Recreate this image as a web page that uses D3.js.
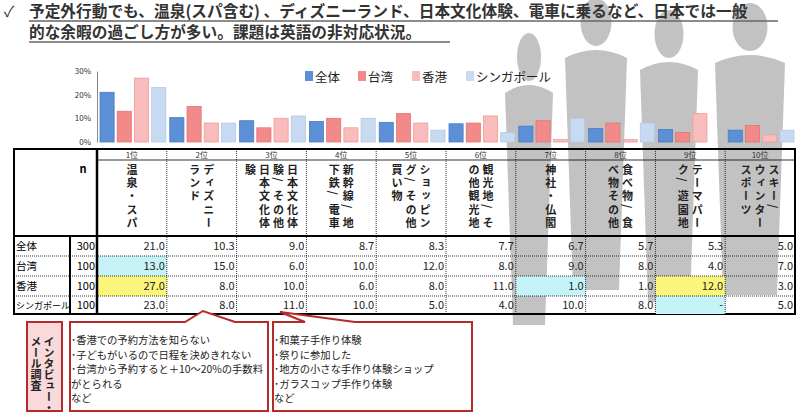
<!DOCTYPE html>
<html><head><meta charset="utf-8">
<script src="https://cdn.jsdelivr.net/npm/d3@7"></script>
<style>body{margin:0;background:#fff}text{font-family:"Noto Sans CJK JP","Noto Sans",sans-serif}</style>
</head><body><svg id="c" width="800" height="414"></svg>
<script>
const ranks=["1位","2位","3位","4位","5位","6位","7位","8位","9位","10位"];
const labelCols=[["温泉・スパ"],["ディズニー","ランド"],["日本文化体","験/その他","日本文化体","験"],["新幹線/地","下鉄/電車"],["ショッピン","グ/その他","買い物"],["観光地/そ","の他観光地"],["神社・仏閣"],["食べ物/食","べ物その他"],["テーマパー","ク/遊園地"],["スキー/","ウィンター","スポーツ"]];
const series=["全体","台湾","香港","シンガポール"];
const nVals=[300,100,100,100];
const total=[21.0,10.3,9.0,8.7,8.3,7.7,6.7,5.7,5.3,5.0];
const taiwan=[13.0,15.0,6.0,10.0,12.0,8.0,9.0,8.0,4.0,7.0];
const hongkong=[27.0,8.0,10.0,6.0,8.0,11.0,1.0,1.0,12.0,3.0];
const singapore=[23.0,8.0,11.0,10.0,5.0,4.0,10.0,8.0,null,5.0];
const yTicks=[0,10,20,30];
const notes1=["･香港での予約方法を知らない","･子どもがいるので日程を決めきれない","･台湾から予約すると＋10～20%の手数料","がとられる","など"];
const notes2=["･和菓子手作り体験","･祭りに参加した","･地方の小さな手作り体験ショップ","･ガラスコップ手作り体験","など"];
const highlights=[[1,0,"#c6f3f7"],[2,0,"#fbf57d"],[2,6,"#c6f3f7"],[2,8,"#fbf57d"],[3,8,"#c6f3f7"]];

const data=[total,taiwan,hongkong,singapore];
const fills=["#5b8fd6","#f38a8a","#f9bcbc","#c8daf1"];
const strokes=["#4a7cc4","#e07474","#f09a9a","#b3c9e6"];
const svg=d3.select("#c");

// silhouettes
const sil=svg.append("g").attr("fill","#9a9a9a").attr("opacity",0.6);
[[565,0,62],[640,12,58],[715,5,70],[505,35,48]].forEach(([x,y,w])=>{
  sil.append("ellipse").attr("cx",x+w/2).attr("cy",y+22).attr("rx",w*0.25).attr("ry",24);
  sil.append("path").attr("d",`M${x},${y+58} Q${x+w/2},${y+42} ${x+w},${y+58} L${x+w-8},${y+290} L${x+8},${y+290} Z`);
});

// title
svg.append("text").attr("x",4).attr("y",17).attr("font-size",15).attr("fill","#333").text("✓");
const t=svg.append("g").attr("font-size",15.7).attr("font-weight","bold").attr("fill","#333");
t.append("text").attr("x",29).attr("y",17).text("予定外行動でも、温泉(スパ含む) 、ディズニーランド、日本文化体験、電車に乗るなど、日本では一般");
t.append("text").attr("x",29).attr("y",38).text("的な余暇の過ごし方が多い。課題は英語の非対応状況。");
svg.append("line").attr("x1",29).attr("x2",778).attr("y1",21).attr("y2",21).attr("stroke","#666").attr("stroke-width",1.5);
svg.append("line").attr("x1",29).attr("x2",450).attr("y1",42).attr("y2",42).attr("stroke","#666").attr("stroke-width",1.5);

// scales
const x=d3.scaleBand().domain(d3.range(10)).range([97,795]);
const xi=d3.scaleBand().domain(d3.range(4)).range([3,x.bandwidth()-1]).paddingInner(0.18);
const y=d3.scaleLinear().domain([0,30]).range([142,71]);
const ax=svg.append("g").attr("transform","translate(97,0)").call(d3.axisLeft(y).tickValues(yTicks).tickSize(0).tickPadding(6).tickFormat(d=>d+"%"));
ax.select(".domain").attr("stroke","#888");
ax.selectAll("text").attr("font-size",8).attr("fill","#333").attr("font-family","Noto Sans");
data.forEach((arr,s)=>{
  svg.append("g").selectAll("rect").data(arr).join("rect")
   .attr("x",(d,i)=>x(i)+xi(s)).attr("width",xi.bandwidth())
   .attr("y",d=>y(d||0)).attr("height",d=>y(0)-y(d||0))
   .attr("fill",fills[s]).attr("stroke",strokes[s]).attr("stroke-width",0.8);
});
// legend
const lg=svg.append("g").attr("font-size",12.5).attr("fill","#222");
const lx=[305,358,412,466];
series.forEach((s,i)=>{lg.append("rect").attr("x",lx[i]).attr("y",71).attr("width",8).attr("height",10).attr("fill",fills[i]);
 lg.append("text").attr("x",lx[i]+10).attr("y",82).text(s);});

// table
const T=svg.append("g");
const tTop=149,rh=[11,76,20,20,20,18];
const ry=[tTop];rh.forEach(h=>ry.push(ry[ry.length-1]+h));
T.append("rect").attr("x",14).attr("y",tTop).attr("width",781).attr("height",ry[6]-tTop).attr("fill","none").attr("stroke","#000").attr("stroke-width",2);
highlights.forEach(([r,c,col])=>T.append("rect").attr("x",x(c)).attr("y",ry[r+2]).attr("width",x.bandwidth()).attr("height",rh[r+2]).attr("fill",col));
for(let r=1;r<6;r++)T.append("line").attr("x1",r<=2?97:14).attr("x2",795).attr("y1",ry[r]).attr("y2",ry[r]).attr("stroke","#000").attr("stroke-width",r==2?2:0.8).attr("stroke-dasharray",r>2?"1,1":null);
T.append("line").attr("x1",14).attr("x2",795).attr("y1",ry[2]).attr("y2",ry[2]).attr("stroke","#000").attr("stroke-width",2);
T.append("line").attr("x1",70).attr("x2",70).attr("y1",ry[2]).attr("y2",ry[6]).attr("stroke","#000").attr("stroke-width",2);
T.append("line").attr("x1",97).attr("x2",97).attr("y1",tTop).attr("y2",ry[6]).attr("stroke","#000").attr("stroke-width",2.5);
for(let i=1;i<10;i++)T.append("line").attr("x1",x(i)).attr("x2",x(i)).attr("y1",tTop).attr("y2",ry[6]).attr("stroke","#000").attr("stroke-width",0.8).attr("stroke-dasharray","1,1");
T.append("text").attr("x",83).attr("y",173).attr("text-anchor","middle").attr("font-size",11).attr("font-weight","bold").text("n");
ranks.forEach((r,i)=>T.append("text").attr("x",x(i)+x.bandwidth()/2).attr("y",158).attr("text-anchor","middle").attr("font-size",8).attr("fill","#333").text(r));
labelCols.forEach((cols,i)=>{
  const cx=x(i)+x.bandwidth()/2, n=cols.length, sp=14;
  cols.forEach((c,k)=>{
    const px=cx+((n-1)/2-k)*sp;
    Array.from(c).forEach((ch,j)=>{
      T.append("text").attr("x",px).attr("y",164+j*13.3).attr("font-size",11).attr("font-weight","bold").attr("fill","#222")
       .style("writing-mode","vertical-rl").text(ch);
    });
  });
});
series.forEach((s,r)=>{
  const yy=ry[r+2]+rh[r+2]/2+4;
  T.append("text").attr("x",16).attr("y",yy).attr("font-size",r==3?9:10.5).text(s);
  T.append("text").attr("x",95).attr("y",yy).attr("text-anchor","end").attr("font-size",11).attr("font-family","Noto Sans").text(nVals[r]);
  data[r].forEach((v,c)=>T.append("text").attr("x",x(c)+x.bandwidth()-2).attr("y",yy).attr("text-anchor","end").attr("font-size",11).attr("font-family","DejaVu Sans").attr("fill","#222").text(v==null?"-":v.toFixed(1)));
});

// callouts
const red="#b52a2a";
svg.append("rect").attr("x",27).attr("y",322).attr("width",35).attr("height",89).attr("fill","#f9d9d9").attr("stroke",red).attr("stroke-width",2);
["インタビュー・","メール調査"].forEach((c,k)=>svg.append("text").attr("x",49-k*13).attr("y",336).attr("font-size",11).attr("font-weight","bold").attr("fill","#222").style("writing-mode","vertical-rl").text(c));
svg.append("path").attr("d","M70,322 L185,322 L203,311 L235,322 L268,322 L268,411 L70,411 Z").attr("fill","#fff").attr("stroke",red).attr("stroke-width",2);
svg.append("path").attr("d","M273,322 L305,322 L280,312 L355,322 L472,322 L472,411 L273,411 Z").attr("fill","#fff").attr("stroke",red).attr("stroke-width",2);
[[notes1,71],[notes2,274]].forEach(([ns,bx])=>ns.forEach((s,k)=>svg.append("text").attr("x",bx).attr("y",344+k*14.5).attr("font-size",10.3).attr("fill","#222").text(s)));
</script></body></html>
